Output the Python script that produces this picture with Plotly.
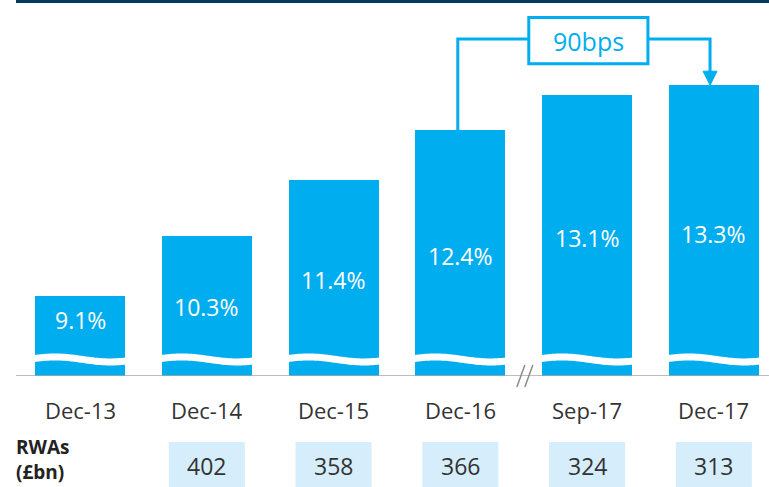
import numpy as np
import plotly.graph_objects as go

categories = ["Dec-13", "Dec-14", "Dec-15", "Dec-16", "Sep-17", "Dec-17"]
cet1_ratio = [9.1, 10.3, 11.4, 12.4, 13.1, 13.3]
rwas = [None, 402, 358, 366, 324, 313]
change_label = "90bps"

BLUE = "#00AEEF"
BASE = 7.5
YTOP = 15.0
FONT = "Open Sans"

x = list(range(len(categories)))
bar_w = 0.71

fig = go.Figure()
fig.add_trace(go.Bar(x=x, y=[v - BASE for v in cet1_ratio], base=BASE, width=bar_w,
                     marker=dict(color=BLUE, line=dict(width=0)), hoverinfo="skip"))

shapes = []
annotations = []

PH = 376.0
def py(px):
    return (PH - px) / PH

# white wave band across each bar
for xi in x:
    t = np.linspace(0, 1, 40)
    xs = xi - bar_w / 2 - 0.01 + t * (bar_w + 0.02)
    yc = 7.83 + 0.05 * np.sin(2 * np.pi * (0.85 * t + 0.05))
    top = yc + 0.07
    bot = yc - 0.07
    pts = ["M %.4f %.4f" % (xs[0], top[0])]
    pts += ["L %.4f %.4f" % (a, b) for a, b in zip(xs[1:], top[1:])]
    pts += ["L %.4f %.4f" % (a, b) for a, b in zip(xs[::-1], bot[::-1])]
    pts.append("Z")
    shapes.append(dict(type="path", xref="x", yref="y", path=" ".join(pts),
                       fillcolor="white", line=dict(width=0)))

# baseline
shapes.append(dict(type="line", xref="paper", yref="y", x0=0, x1=1, y0=BASE, y1=BASE,
                   line=dict(color="#A6A6A6", width=1.5)))
# top dark rule
shapes.append(dict(type="line", xref="paper", yref="paper", x0=0, x1=1,
                   y0=1 - 1.5 / PH, y1=1 - 1.5 / PH, line=dict(color="#003A5C", width=3)))

# axis break marks
for dx in (0.0, 0.063):
    shapes.append(dict(type="line", xref="x", yref="paper",
                       x0=3.446 + dx, x1=3.509 + dx, y0=py(387), y1=py(365),
                       line=dict(color="#8C8C8C", width=1.5)))

# bracket for change
yb = 14.22
lx = 2.98
rx = 4.97
box_x0, box_x1 = 3.54, 4.48
shapes.append(dict(type="path", xref="x", yref="y",
                   path="M %f %f L %f %f L %f %f" % (lx, cet1_ratio[3], lx, yb, box_x0, yb),
                   line=dict(color=BLUE, width=3)))
shapes.append(dict(type="path", xref="x", yref="y",
                   path="M %f %f L %f %f L %f %f" % (box_x1, yb, rx, yb, rx, 13.56),
                   line=dict(color=BLUE, width=3)))
shapes.append(dict(type="path", xref="x", yref="y",
                   path="M %f %f L %f %f L %f %f Z" % (rx - 0.055, 13.58, rx + 0.055, 13.58, rx, cet1_ratio[5]),
                   fillcolor=BLUE, line=dict(color=BLUE, width=1)))
shapes.append(dict(type="rect", xref="x", yref="y", x0=box_x0, x1=box_x1, y0=13.73, y1=14.65,
                   fillcolor="white", line=dict(color=BLUE, width=3)))
annotations.append(dict(x=(box_x0 + box_x1) / 2, y=14.19, xref="x", yref="y", text=change_label,
                        showarrow=False, yanchor="middle",
                        font=dict(family=FONT, size=25, color=BLUE)))

# bar value labels
for xi, v in zip(x, cet1_ratio):
    h = v - BASE
    annotations.append(dict(x=xi, y=BASE + max(0.49 * h, 1.12), xref="x", yref="y",
                            text="%.1f%%" % v, showarrow=False, yanchor="middle",
                            font=dict(family=FONT, size=23, color="white")))

# category labels
for xi, c in zip(x, categories):
    annotations.append(dict(x=xi, y=py(410), xref="x", yref="paper", text=c, showarrow=False,
                            yanchor="middle", font=dict(family=FONT, size=22, color="#333333")))

# RWA boxes
for xi, r in zip(x, rwas):
    if r is None:
        continue
    shapes.append(dict(type="rect", xref="x", yref="paper", x0=xi - 0.3, x1=xi + 0.3,
                       y0=py(492), y1=py(442), fillcolor="#D6EEFB", line=dict(width=0), layer="below"))
    annotations.append(dict(x=xi, y=py(466), xref="x", yref="paper", text=str(r), showarrow=False,
                            yanchor="middle", font=dict(family=FONT, size=23, color="#333333")))

annotations.append(dict(x=0, y=py(459), xref="paper", yref="paper", xanchor="left", yanchor="middle",
                        xshift=-2, text="<b>RWAs<br>(£bn)</b>", align="left", showarrow=False,
                        font=dict(family=FONT, size=19, color="#222222")))

fig.update_layout(
    width=769, height=487,
    margin=dict(l=16, r=0, t=0, b=111),
    paper_bgcolor="white", plot_bgcolor="white",
    showlegend=False,
    bargap=0,
    xaxis=dict(range=[-0.505, 5.435], showticklabels=False, showgrid=False, zeroline=False,
               showline=False, ticks="", fixedrange=True),
    yaxis=dict(range=[BASE, YTOP], showticklabels=False, showgrid=False, zeroline=False,
               showline=False, ticks="", fixedrange=True),
    shapes=shapes,
    annotations=annotations,
)

fig.write_html("out.html", config={"displayModeBar": False},
               post_script="document.body.style.margin='0';document.body.style.overflow='hidden';")
